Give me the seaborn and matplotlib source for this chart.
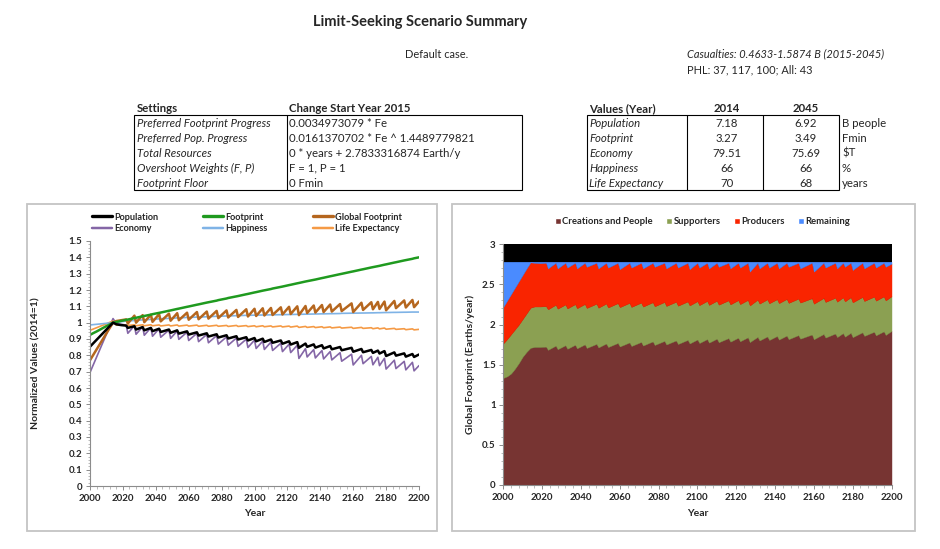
import matplotlib
matplotlib.use("Agg")
import matplotlib.pyplot as plt
from matplotlib.patches import Rectangle, Patch
from matplotlib.lines import Line2D
from matplotlib.ticker import AutoMinorLocator
import seaborn as sns

# ---------------- data ----------------
years = [2000, 2002, 2004, 2006, 2008, 2010, 2012, 2014, 2016, 2019, 2022, 2023,
         2027, 2028, 2032, 2033, 2037, 2038, 2042, 2043, 2048, 2049, 2053, 2054, 2059, 2060,
         2065, 2066, 2071, 2072, 2077, 2078, 2083, 2084, 2089, 2090, 2095, 2096, 2100, 2101,
         2105, 2106, 2110, 2111, 2116, 2117, 2121, 2122, 2126, 2127, 2131, 2132, 2136, 2137,
         2141, 2142, 2146, 2147, 2152, 2153, 2159, 2160, 2165, 2166, 2171, 2172, 2175, 2176,
         2179, 2180, 2185, 2186, 2191, 2192, 2196, 2197, 2200]

population = [0.853, 0.874, 0.895, 0.916, 0.937, 0.958, 0.979, 1.000, 0.990, 0.985, 0.982, 0.968,
              0.978, 0.958, 0.973, 0.953, 0.968, 0.948, 0.963, 0.943, 0.958, 0.938, 0.953, 0.933, 0.947, 0.927,
              0.941, 0.921, 0.935, 0.915, 0.929, 0.909, 0.923, 0.903, 0.917, 0.897, 0.911, 0.891, 0.906, 0.886,
              0.902, 0.882, 0.897, 0.877, 0.891, 0.871, 0.886, 0.866, 0.881, 0.846, 0.872, 0.852, 0.867, 0.847,
              0.862, 0.842, 0.857, 0.837, 0.851, 0.831, 0.846, 0.822, 0.839, 0.819, 0.833, 0.815, 0.829, 0.811,
              0.826, 0.796, 0.818, 0.798, 0.812, 0.792, 0.808, 0.790, 0.805]

economy = [0.695, 0.742, 0.789, 0.836, 0.883, 0.930, 0.977, 1.025, 0.995, 0.990, 0.985, 0.935,
           0.981, 0.929, 0.975, 0.923, 0.969, 0.917, 0.963, 0.911, 0.955, 0.904, 0.949, 0.898, 0.942, 0.891,
           0.935, 0.884, 0.928, 0.877, 0.921, 0.869, 0.913, 0.862, 0.906, 0.855, 0.899, 0.848, 0.893, 0.842,
           0.887, 0.836, 0.881, 0.830, 0.874, 0.823, 0.868, 0.817, 0.862, 0.781, 0.841, 0.790, 0.835, 0.784,
           0.829, 0.778, 0.823, 0.772, 0.816, 0.764, 0.807, 0.741, 0.800, 0.749, 0.793, 0.742, 0.788, 0.737,
           0.782, 0.716, 0.770, 0.719, 0.763, 0.711, 0.757, 0.705, 0.737]

global_footprint = [0.770, 0.803, 0.836, 0.869, 0.902, 0.935, 0.968, 1.000, 1.010, 1.015, 1.020, 0.995,
                    1.043, 1.000, 1.046, 1.003, 1.049, 1.005, 1.052, 1.008, 1.055, 1.012, 1.058, 1.015, 1.061, 1.018,
                    1.065, 1.021, 1.068, 1.025, 1.072, 1.028, 1.075, 1.032, 1.078, 1.035, 1.082, 1.038, 1.085, 1.041,
                    1.088, 1.044, 1.090, 1.047, 1.094, 1.050, 1.097, 1.053, 1.100, 1.046, 1.102, 1.059, 1.105, 1.062,
                    1.108, 1.065, 1.111, 1.068, 1.114, 1.071, 1.118, 1.065, 1.122, 1.078, 1.125, 1.082, 1.127, 1.084,
                    1.129, 1.076, 1.133, 1.089, 1.136, 1.093, 1.139, 1.095, 1.130]

footprint = [0.925, 0.936, 0.946, 0.957, 0.968, 0.979, 0.989, 1.000, 1.004, 1.011, 1.017, 1.019,
             1.028, 1.030, 1.039, 1.041, 1.049, 1.052, 1.060, 1.062, 1.073, 1.075, 1.084, 1.086, 1.097, 1.099,
             1.110, 1.112, 1.123, 1.125, 1.135, 1.138, 1.148, 1.151, 1.161, 1.163, 1.174, 1.176, 1.185, 1.187,
             1.196, 1.198, 1.206, 1.209, 1.219, 1.221, 1.230, 1.232, 1.241, 1.243, 1.252, 1.254, 1.262, 1.264,
             1.273, 1.275, 1.284, 1.286, 1.297, 1.299, 1.312, 1.314, 1.325, 1.327, 1.338, 1.340, 1.346, 1.348,
             1.355, 1.357, 1.368, 1.370, 1.381, 1.383, 1.391, 1.394, 1.400]

happiness = [0.986, 0.988, 0.990, 0.992, 0.994, 0.996, 0.998, 1.000, 1.003, 1.006, 1.010, 1.011,
             1.013, 1.014, 1.017, 1.017, 1.020, 1.021, 1.023, 1.024, 1.026, 1.027, 1.029, 1.029, 1.032, 1.032,
             1.034, 1.034, 1.036, 1.037, 1.039, 1.039, 1.041, 1.041, 1.043, 1.043, 1.045, 1.045, 1.046, 1.046,
             1.047, 1.047, 1.048, 1.048, 1.049, 1.049, 1.050, 1.050, 1.051, 1.051, 1.052, 1.052, 1.053, 1.053,
             1.054, 1.054, 1.055, 1.055, 1.056, 1.057, 1.058, 1.058, 1.059, 1.059, 1.060, 1.060, 1.061, 1.061,
             1.062, 1.062, 1.063, 1.063, 1.064, 1.064, 1.065, 1.065, 1.065]

life_expectancy = [0.953, 0.961, 0.969, 0.977, 0.985, 0.993, 1.002, 1.010, 0.985, 0.985, 0.984, 0.983,
                   0.987, 0.981, 0.987, 0.981, 0.987, 0.981, 0.986, 0.980, 0.986, 0.980, 0.986, 0.979, 0.985, 0.979,
                   0.985, 0.978, 0.984, 0.978, 0.984, 0.978, 0.983, 0.977, 0.983, 0.977, 0.982, 0.976, 0.981, 0.975,
                   0.981, 0.975, 0.980, 0.974, 0.980, 0.974, 0.979, 0.973, 0.979, 0.971, 0.977, 0.971, 0.976, 0.970,
                   0.975, 0.969, 0.974, 0.968, 0.973, 0.967, 0.972, 0.965, 0.971, 0.965, 0.969, 0.963, 0.968, 0.962,
                   0.967, 0.960, 0.965, 0.959, 0.963, 0.957, 0.962, 0.956, 0.959]

creations = [1.335, 1.355, 1.390, 1.450, 1.520, 1.600, 1.660, 1.710, 1.720, 1.720, 1.725, 1.685,
             1.737, 1.693, 1.742, 1.698, 1.748, 1.704, 1.753, 1.709, 1.759, 1.715, 1.764, 1.720, 1.771, 1.727,
             1.777, 1.733, 1.783, 1.739, 1.790, 1.746, 1.796, 1.752, 1.802, 1.758, 1.809, 1.765, 1.814, 1.770,
             1.819, 1.775, 1.824, 1.780, 1.831, 1.787, 1.836, 1.792, 1.841, 1.782, 1.846, 1.802, 1.852, 1.808,
             1.857, 1.813, 1.862, 1.818, 1.868, 1.824, 1.876, 1.817, 1.882, 1.838, 1.888, 1.844, 1.893, 1.849,
             1.897, 1.843, 1.903, 1.859, 1.910, 1.866, 1.915, 1.871, 1.920]

supporters = [0.430, 0.465, 0.490, 0.490, 0.480, 0.470, 0.480, 0.500, 0.505, 0.505, 0.505, 0.505,
              0.510, 0.505, 0.508, 0.503, 0.506, 0.500, 0.503, 0.498, 0.501, 0.495, 0.498, 0.493, 0.496, 0.490,
              0.493, 0.487, 0.490, 0.485, 0.488, 0.482, 0.485, 0.480, 0.482, 0.477, 0.479, 0.474, 0.477, 0.472,
              0.475, 0.470, 0.473, 0.468, 0.470, 0.465, 0.468, 0.463, 0.466, 0.456, 0.464, 0.459, 0.462, 0.457,
              0.459, 0.454, 0.457, 0.452, 0.455, 0.450, 0.452, 0.443, 0.449, 0.444, 0.446, 0.441, 0.445, 0.440,
              0.443, 0.434, 0.440, 0.435, 0.437, 0.432, 0.435, 0.430, 0.432]

producers = [0.455, 0.480, 0.500, 0.520, 0.540, 0.550, 0.560, 0.565, 0.545, 0.540, 0.540, 0.510,
             0.523, 0.502, 0.520, 0.509, 0.516, 0.496, 0.514, 0.513, 0.510, 0.490, 0.508, 0.497, 0.503, 0.473,
             0.500, 0.490, 0.497, 0.476, 0.492, 0.492, 0.489, 0.468, 0.486, 0.475, 0.482, 0.451, 0.479, 0.468,
             0.476, 0.455, 0.473, 0.472, 0.469, 0.448, 0.466, 0.455, 0.463, 0.422, 0.460, 0.439, 0.456, 0.445,
             0.454, 0.433, 0.451, 0.450, 0.447, 0.426, 0.442, 0.400, 0.439, 0.428, 0.436, 0.415, 0.432, 0.431,
             0.430, 0.403, 0.427, 0.406, 0.423, 0.412, 0.420, 0.419, 0.408]

remaining = [0.563, 0.483, 0.403, 0.323, 0.243, 0.163, 0.083, 0.008, 0.013, 0.018, 0.013, 0.083,
             0.013, 0.083, 0.013, 0.073, 0.013, 0.083, 0.013, 0.063, 0.013, 0.083, 0.013, 0.073, 0.013, 0.093,
             0.013, 0.073, 0.013, 0.083, 0.013, 0.063, 0.013, 0.083, 0.013, 0.073, 0.013, 0.093, 0.013, 0.073,
             0.013, 0.083, 0.013, 0.063, 0.013, 0.083, 0.013, 0.073, 0.013, 0.123, 0.013, 0.083, 0.013, 0.073,
             0.013, 0.083, 0.013, 0.063, 0.013, 0.083, 0.013, 0.123, 0.013, 0.073, 0.013, 0.083, 0.013, 0.063,
             0.013, 0.103, 0.013, 0.083, 0.013, 0.073, 0.013, 0.063, 0.023]

title = "Limit-Seeking Scenario Summary"
case_text = "Default case."
casualties_text = "Casualties: 0.4633-1.5874 B (2015-2045)"
phl_text = "PHL: 37, 117, 100; All: 43"

settings_header = ["Settings", "Change Start Year 2015"]
settings_labels = ["Preferred Footprint Progress", "Preferred Pop. Progress", "Total Resources",
                   "Overshoot Weights (F, P)", "Footprint Floor"]
settings_values = ["0.0034973079 * Fe", "0.0161370702 * Fe ^ 1.4489779821",
                   "0 * years + 2.7833316874 Earth/y", "F = 1, P = 1", "0 Fmin"]

values_header = ["Values (Year)", "2014", "2045"]
value_labels = ["Population", "Footprint", "Economy", "Happiness", "Life Expectancy"]
values_2014 = ["7.18", "3.27", "79.51", "66", "70"]
values_2045 = ["6.92", "3.49", "75.69", "66", "68"]
value_units = ["B people", "Fmin", "$T", "%", "years"]

left_ticks_y = [0, 0.1, 0.2, 0.3, 0.4, 0.5, 0.6, 0.7, 0.8, 0.9, 1, 1.1, 1.2, 1.3, 1.4, 1.5]
right_ticks_y = [0, 0.5, 1, 1.5, 2, 2.5, 3]
ticks_x = [2000, 2020, 2040, 2060, 2080, 2100, 2120, 2140, 2160, 2180, 2200]

# ---------------- style ----------------
sns.set_theme(style="white")
plt.rcParams['font.family'] = ['Lato', 'DejaVu Sans']

W, H = 940, 549
fig = plt.figure(figsize=(W / 100, H / 100), dpi=100)
fig.patch.set_facecolor("white")

TABLE_FS = 8.2
TICK_FS = 7
LABEL_FS = 7.5


def fx(x):
    return x / W


def fy(y):
    return 1 - y / H


def box(x0, y0, x1, y1, color, lw):
    fig.add_artist(Rectangle((fx(x0), fy(y1)), (x1 - x0) / W, (y1 - y0) / H,
                             transform=fig.transFigure, fill=False,
                             edgecolor=color, linewidth=lw))


def vline(x, y0, y1):
    fig.add_artist(Line2D([fx(x), fx(x)], [fy(y0), fy(y1)], transform=fig.transFigure,
                          color="black", linewidth=0.8))


# ---------------- header texts ----------------
fig.text(fx(420), fy(22), title, ha="center", va="center", fontsize=10.5, fontweight="bold")
fig.text(fx(405), fy(54), case_text, ha="left", va="center", fontsize=7.9)
fig.text(fx(687), fy(54), casualties_text, ha="left", va="center", fontsize=7.9, style="italic")
fig.text(fx(687), fy(69.5), phl_text, ha="left", va="center", fontsize=7.9)

# settings table
row_y = [123.3, 138.3, 153.3, 168.3, 183.3]
fig.text(fx(137), fy(108.3), settings_header[0], ha="left", va="center", fontsize=TABLE_FS, fontweight="bold")
fig.text(fx(289), fy(108.3), settings_header[1], ha="left", va="center", fontsize=TABLE_FS, fontweight="bold")
for yy, lab, val in zip(row_y, settings_labels, settings_values):
    fig.text(fx(137), fy(yy), lab, ha="left", va="center", fontsize=TABLE_FS, style="italic")
    fig.text(fx(289), fy(yy), val, ha="left", va="center", fontsize=TABLE_FS)
box(134, 115, 522, 190, "black", 0.8)
vline(286.5, 115, 190)

# values table
fig.text(fx(589), fy(108.3), values_header[0], ha="left", va="center", fontsize=TABLE_FS, fontweight="bold")
fig.text(fx(727), fy(108.3), values_header[1], ha="center", va="center", fontsize=TABLE_FS, fontweight="bold")
fig.text(fx(806), fy(108.3), values_header[2], ha="center", va="center", fontsize=TABLE_FS, fontweight="bold")
for yy, lab, v1, v2, u in zip(row_y, value_labels, values_2014, values_2045, value_units):
    fig.text(fx(589), fy(yy), lab, ha="left", va="center", fontsize=TABLE_FS, style="italic")
    fig.text(fx(727), fy(yy), v1, ha="center", va="center", fontsize=TABLE_FS)
    fig.text(fx(806), fy(yy), v2, ha="center", va="center", fontsize=TABLE_FS)
    fig.text(fx(842), fy(yy), u, ha="left", va="center", fontsize=TABLE_FS)
box(586.5, 115, 838.5, 190, "black", 0.8)
vline(686.5, 115, 190)
vline(763, 115, 190)

# panel borders
box(27, 204, 436.5, 531, "#c4c4c4", 1.3)
box(452, 204, 915, 531, "#c4c4c4", 1.3)

# ---------------- left chart ----------------
ax1 = fig.add_axes([fx(90), fy(486), (419 - 90) / W, (486 - 241) / H])
series = [
    ("Economy", economy, "#8466A6", 1.2),
    ("Life Expectancy", life_expectancy, "#F59A45", 1.2),
    ("Happiness", happiness, "#7FB3E6", 1.2),
    ("Global Footprint", global_footprint, "#B5661E", 1.8),
    ("Footprint", footprint, "#1F9A1F", 1.8),
    ("Population", population, "#000000", 1.8),
]
handles = {}
for name, vals, col, lw in series:
    sns.lineplot(x=years, y=vals, ax=ax1, color=col, linewidth=lw, sort=False,
                 estimator=None, legend=False)
    handles[name] = Line2D([0], [0], color=col, linewidth=lw + 0.6)

ax1.set_xlim(2000, 2200)
ax1.set_ylim(0, 1.5)


def style_axis(ax, yticks):
    for s in ["top", "right"]:
        ax.spines[s].set_visible(False)
    for s in ["left", "bottom"]:
        ax.spines[s].set_color("#8c8c8c")
        ax.spines[s].set_linewidth(0.8)
    ax.set_xticks(ticks_x)
    ax.set_xticklabels([str(t) for t in ticks_x], fontweight="bold", fontsize=TICK_FS)
    ax.set_yticks(yticks)
    ax.set_yticklabels([f"{t:g}" for t in yticks], fontweight="bold", fontsize=TICK_FS)
    ax.xaxis.set_minor_locator(AutoMinorLocator(5))
    ax.yaxis.set_minor_locator(AutoMinorLocator(5))
    ax.tick_params(axis="both", which="major", direction="out", length=3, width=0.7,
                   color="#8c8c8c", pad=2.5, bottom=True, left=True)
    ax.tick_params(axis="both", which="minor", direction="out", length=1.8, width=0.5,
                   color="#a0a0a0", bottom=True, left=True)
    ax.grid(False)


style_axis(ax1, left_ticks_y)
ax1.set_xlabel("Year", fontsize=LABEL_FS, fontweight="bold")
ax1.set_ylabel("Normalized Values (2014=1)", fontsize=LABEL_FS, fontweight="bold")
ax1.xaxis.set_label_coords(0.5, (486 - 514) / 245)
ax1.xaxis.label.set_va("center")
ax1.yaxis.set_label_coords((36 - 90) / 329, 0.5)
ax1.yaxis.label.set_va("center")

order = ["Population", "Economy", "Footprint", "Happiness", "Global Footprint", "Life Expectancy"]
fig.legend([handles[n] for n in order], order, loc="upper left",
           bbox_to_anchor=(fx(91.5), fy(212.5)), ncol=3, frameon=False,
           prop={"weight": "bold", "size": 6.6}, handlelength=2.2, handletextpad=0.25,
           columnspacing=4.9, labelspacing=0.28, borderpad=0, borderaxespad=0)

# ---------------- right chart ----------------
ax2 = fig.add_axes([fx(503.3), fy(485), (891.5 - 503.3) / W, (485 - 244.3) / H])
ax2.set_facecolor("black")
stack_labels = ["Creations and People", "Supporters", "Producers", "Remaining"]
stack_colors = ["#773432", "#8BA052", "#F92400", "#4A8BFF"]
polys = ax2.stackplot(years, creations, supporters, producers, remaining,
                      colors=stack_colors, labels=stack_labels,
                      edgecolor="face", linewidth=0.3)
ax2.set_xlim(2000, 2200)
ax2.set_ylim(0, 3)
style_axis(ax2, right_ticks_y)
ax2.set_xlabel("Year", fontsize=LABEL_FS, fontweight="bold")
ax2.set_ylabel("Global Footprint (Earths/year)", fontsize=LABEL_FS, fontweight="bold")
ax2.xaxis.set_label_coords(0.5, (485 - 513.3) / 240.7)
ax2.xaxis.label.set_va("center")
ax2.yaxis.set_label_coords((470 - 503.3) / 388.2, 0.5)
ax2.yaxis.label.set_va("center")

fig.legend([Patch(facecolor=c) for c in stack_colors], stack_labels, loc="upper left",
           bbox_to_anchor=(fx(555), fy(217.5)), ncol=4, frameon=False,
           prop={"weight": "bold", "size": 6.8}, handlelength=0.6, handleheight=0.6,
           handletextpad=0.15, columnspacing=1.45, borderpad=0, borderaxespad=0)

fig.savefig("out.png", dpi=100, facecolor="white")
